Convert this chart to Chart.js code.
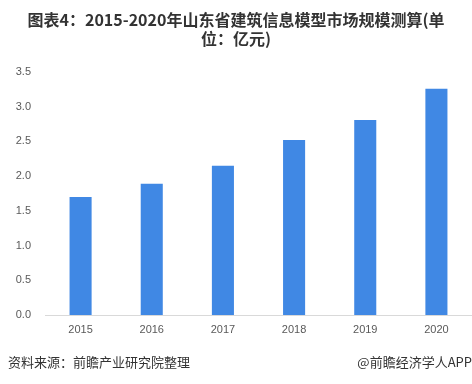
<!DOCTYPE html>
<html>
<head>
<meta charset="utf-8">
<script src="https://cdn.jsdelivr.net/npm/chart.js@4/dist/chart.umd.min.js"></script>
<style>
  html, body { margin: 0; padding: 0; background: #fff; }
  #wrap { width: 472px; height: 384px; }
</style>
</head>
<body>
<div id="wrap"><canvas id="c"></canvas></div>
<script>
const years = ['2015', '2016', '2017', '2018', '2019', '2020'];
const marketSize = [1.70, 1.89, 2.15, 2.52, 2.81, 3.26];
const titleLines = ['图表4：2015-2020年山东省建筑信息模型市场规模测算(单', '位：亿元)'];
const sourceText = '资料来源：前瞻产业研究院整理';
const brandText = '@前瞻经济学人APP';

const textPlugin = {
    id: 'pageText',
    afterDraw(chart) {
        const { ctx, width } = chart;
        ctx.save();
        ctx.fillStyle = '#333333';
        ctx.font = 'bold 16px "Noto Sans CJK SC", sans-serif';
        ctx.textAlign = 'center';
        ctx.textBaseline = 'middle';
        ctx.fillText(titleLines[0], width / 2, 20);
        ctx.fillText(titleLines[1], width / 2, 39);

        ctx.font = '13px "Noto Sans CJK SC", sans-serif';
        ctx.fillStyle = '#333333';
        ctx.textAlign = 'left';
        ctx.fillText(sourceText, 8, 362);
        ctx.textAlign = 'right';
        ctx.fillText(brandText, width, 362);
        ctx.restore();
    }
};

new Chart(document.getElementById('c'), {
    type: 'bar',
    data: {
        labels: years,
        datasets: [{
            data: marketSize,
            backgroundColor: '#4088e4',
            barPercentage: 0.31,
            categoryPercentage: 1
        }]
    },
    options: {
        responsive: true,
        maintainAspectRatio: false,
        animation: false,
        layout: { padding: { top: 72, bottom: 39, left: 0, right: 0 } },
        scales: {
            x: {
                grid: { display: false, drawTicks: false },
                border: { display: true, color: '#d9d9d9', width: 1 },
                ticks: { color: '#595959', font: { size: 11, family: 'Liberation Sans' }, padding: 8 },
                afterFit(scale) { scale.height = 30; }
            },
            y: {
                min: 0,
                max: 3.5,
                grid: { display: false, drawTicks: false },
                border: { display: false },
                ticks: {
                    stepSize: 0.5,
                    color: '#595959',
                    font: { size: 11, family: 'Liberation Sans' },
                    padding: 14,
                    callback: v => v.toFixed(1)
                },
                afterFit(scale) { scale.width = 45; }
            }
        },
        plugins: {
            legend: { display: false },
            tooltip: { enabled: false }
        }
    },
    plugins: [textPlugin]
});
</script>
</body>
</html>
